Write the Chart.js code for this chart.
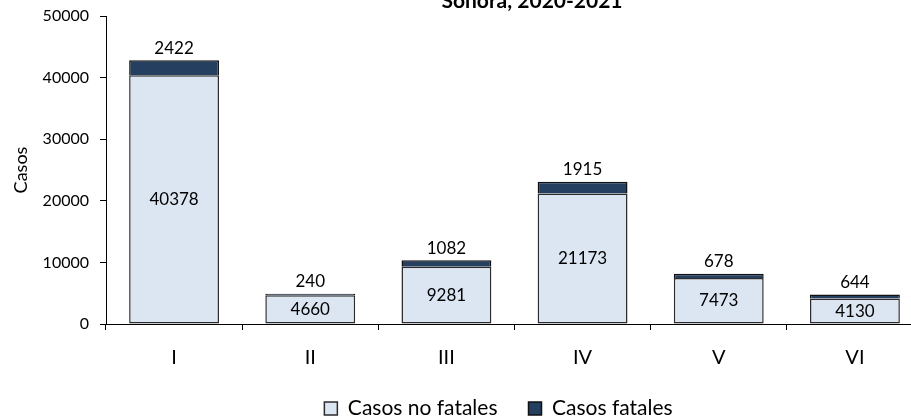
<!DOCTYPE html>
<html>
<head>
<meta charset="utf-8">
<script src="https://cdn.jsdelivr.net/npm/chart.js@4"></script>
<style>
  html, body { margin: 0; padding: 0; overflow: hidden; background: #fff; }
  #caja { position: absolute; left: 0; top: 0; width: 1005px; height: 429px; }
</style>
</head>
<body>
<div id="caja"><canvas id="grafica"></canvas></div>
<script>
const categorias = ['I', 'II', 'III', 'IV', 'V', 'VI'];
const noFatales = [40378, 4660, 9281, 21173, 7473, 4130];
const fatales = [2422, 240, 1082, 1915, 678, 644];
const ticksY = [0, 10000, 20000, 30000, 40000, 50000];
const titulo = 'Sonora, 2020-2021';

const fuente = 'Lato, "DejaVu Sans", sans-serif';

// titulo cortado arriba, como en la imagen original
const tituloCortado = {
    id: 'tituloCortado',
    afterDraw(chart) {
        const ctx = chart.ctx;
        ctx.save();
        ctx.font = 'bold 21px ' + fuente;
        ctx.fillStyle = '#000';
        ctx.textAlign = 'center';
        ctx.textBaseline = 'alphabetic';
        ctx.fillText(titulo, 532, 8);
        ctx.restore();
    }
};

// la leyenda va un poco a la derecha del centro
const moverLeyenda = {
    id: 'moverLeyenda',
    afterLayout(chart) {
        chart.legend.left += 37;
        chart.legend.right += 37;
    }
};

// valores dentro y encima de las barras
const etiquetas = {
    id: 'etiquetas',
    afterDatasetsDraw(chart) {
        const ctx = chart.ctx;
        const abajo = chart.getDatasetMeta(0).data;
        const arriba = chart.getDatasetMeta(1).data;
        ctx.save();
        ctx.font = '17px ' + fuente;
        ctx.fillStyle = '#000';
        ctx.textAlign = 'center';
        ctx.textBaseline = 'middle';
        abajo.forEach((barra, i) => {
            ctx.fillText(noFatales[i], barra.x, (barra.y + barra.base) / 2);
            ctx.fillText(fatales[i], arriba[i].x, arriba[i].y - 12);
        });
        ctx.restore();
    }
};

new Chart(document.getElementById('grafica'), {
    type: 'bar',
    data: {
        labels: categorias,
        datasets: [{
            label: 'Casos no fatales',
            data: noFatales,
            backgroundColor: '#DCE6F2',
            borderColor: '#2b2b2b',
            borderWidth: 1.5,
            borderSkipped: false
        }, {
            label: 'Casos fatales',
            data: fatales,
            backgroundColor: '#243F60',
            borderColor: '#111',
            borderWidth: 1.5,
            borderSkipped: 'bottom'
        }]
    },
    options: {
        responsive: true,
        maintainAspectRatio: false,
        animation: false,
        layout: { padding: { top: 16, right: 82, left: 0, bottom: 0 } },
        datasets: { bar: { categoryPercentage: 1, barPercentage: 0.66 } },
        plugins: {
            title: { display: false },
            tooltip: { enabled: false },
            legend: {
                position: 'bottom',
                labels: {
                    color: '#000',
                    font: { family: fuente, size: 21 },
                    boxWidth: 13,
                    boxHeight: 13,
                    padding: 31
                }
            }
        },
        scales: {
            x: {
                stacked: true,
                afterFit(escala) { escala.height = 43; },
                grid: { display: true, offset: true, drawOnChartArea: false, tickLength: 6, color: '#000' },
                border: { display: true, color: '#000', width: 1 },
                ticks: { color: '#000', font: { family: fuente, size: 20 }, padding: 16 }
            },
            y: {
                stacked: true,
                min: 0,
                max: 50000,
                afterFit(escala) {
                    escala.width = 106;
                    escala.paddingTop = 0;
                    escala.paddingBottom = 0;
                },
                afterBuildTicks(escala) { escala.ticks = ticksY.map(v => ({ value: v })); },
                grid: { display: true, drawOnChartArea: false, tickLength: 6, color: '#000' },
                border: { display: true, color: '#000', width: 1 },
                ticks: {
                    color: '#000',
                    font: { family: fuente, size: 16 },
                    padding: 11,
                    callback: v => String(v)
                },
                title: {
                    display: true,
                    text: 'Casos',
                    color: '#000',
                    font: { family: fuente, size: 18 },
                    padding: { top: 10, bottom: 0 }
                }
            }
        }
    },
    plugins: [tituloCortado, moverLeyenda, etiquetas]
});
</script>
</body>
</html>
